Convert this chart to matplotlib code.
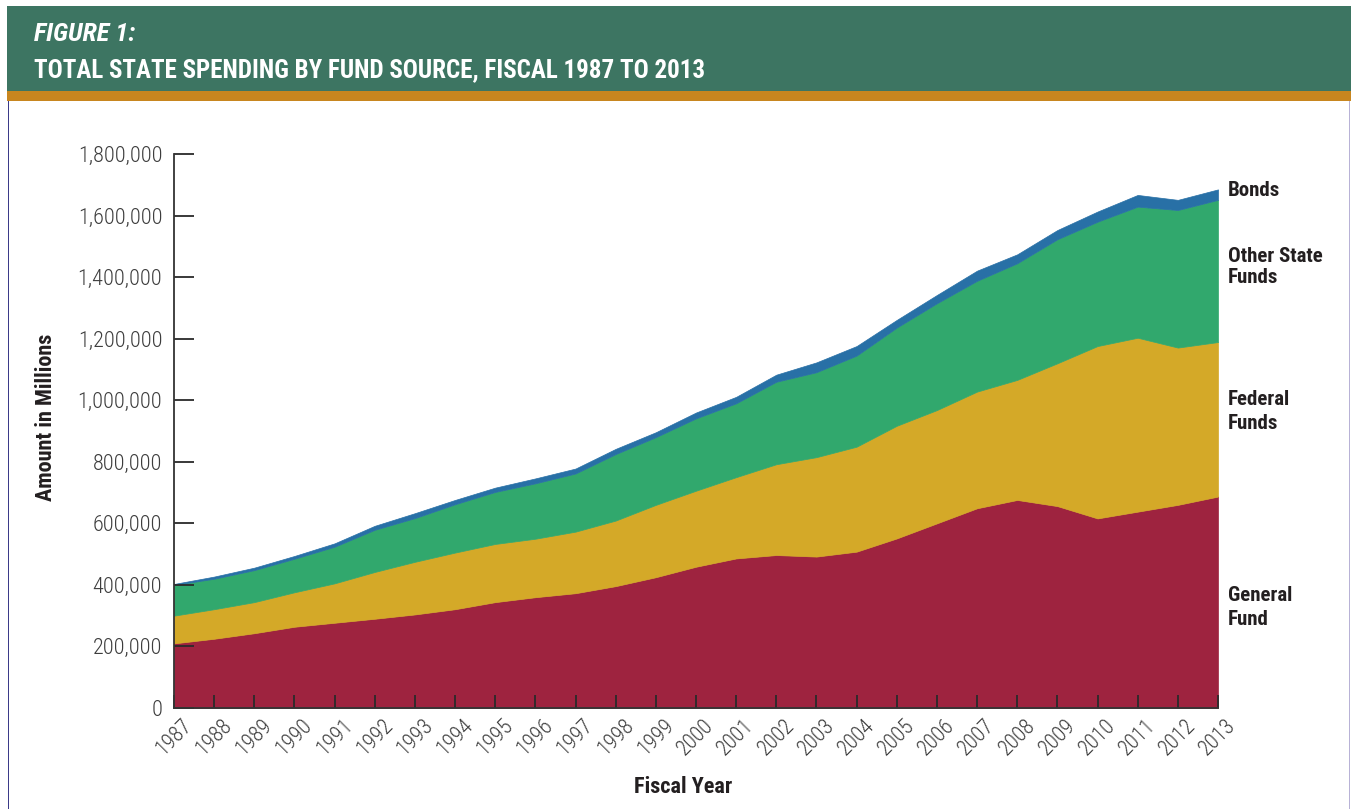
import matplotlib
matplotlib.use("Agg")
import matplotlib.pyplot as plt
from matplotlib.patches import Rectangle
import numpy as np

# fiscal years and spending by fund source (millions of dollars)
years = list(range(1987, 2014))
general = [210000, 225000, 243000, 264000, 277000, 290000, 304000, 321000, 344000,
           360000, 373000, 396000, 425000, 459000, 486000, 497000, 492000, 508000,
           551000, 600000, 649000, 676000, 656000, 616000, 638000, 660000, 687000]
federal = [90000, 96000, 101000, 112000, 128000, 152000, 171000, 184000, 189000,
           190000, 200000, 213000, 235000, 247000, 264000, 295000, 323000, 341000,
           366000, 368000, 379000, 390000, 464000, 560000, 565000, 511000, 502000]
other_state = [100000, 99000, 104000, 109000, 119000, 137000, 142000, 157000, 169000,
               180000, 189000, 216000, 220000, 235000, 240000, 268000, 276000, 296000,
               319000, 347000, 360000, 379000, 403000, 404000, 426000, 447000, 462000]
bonds = [3000, 7000, 8000, 9000, 11000, 13000, 16000, 14000, 14000,
         16000, 16000, 17000, 16000, 19000, 21000, 23000, 32000, 31000,
         25000, 27000, 33000, 29000, 30000, 33000, 38000, 33000, 34000]

series = [general, federal, other_state, bonds]
series_names = ["General\nFund", "Federal\nFunds", "Other State\nFunds", "Bonds"]
series_colours = ["#9e233f", "#d4a928", "#31a86d", "#2870a6"]
# vertical spot for each side label, in data units
label_y = [326000, 963000, 1433000, 1683000]
label_spacing = [1.35, 1.35, 1.15, 1.15]

y_ticks = list(range(0, 1800001, 200000))

W, H = 1351, 809
plt.rcParams["font.family"] = ["Liberation Sans Narrow", "Roboto Condensed",
                               "Roboto", "DejaVu Sans"]

fig = plt.figure(figsize=(W / 100, H / 100), dpi=100, facecolor="white")


def box(x0, y0, x1, y1, **kw):
    """Rectangle given in pixel coords measured from the top-left corner."""
    fig.add_artist(Rectangle((x0 / W, 1 - y1 / H), (x1 - x0) / W, (y1 - y0) / H,
                             transform=fig.transFigure, **kw))


# header band, gold rule and framed panel
box(7, 6, W, 91, facecolor="#3d7562", edgecolor="none")
box(7, 91, W, 101, facecolor="#c8861f", edgecolor="none")
box(7.5, 101, 9, H, facecolor="#3b3a88", edgecolor="none")
box(1348.5, 101, 1350, H, facecolor="#b8b2d6", edgecolor="none")

fig.text(34 / W, 1 - 34 / H, "FIGURE 1:", color="white", fontsize=19,
         fontweight="bold", fontstyle="italic", va="center", ha="left")
fig.text(34 / W, 1 - 70 / H, "TOTAL STATE SPENDING BY FUND SOURCE, FISCAL 1987 TO 2013",
         color="white", fontsize=18, fontweight="bold", va="center", ha="left")

ax = fig.add_axes([174 / W, 1 - 708 / H, (1218 - 174) / W, (708 - 154) / H])

base = np.zeros(len(years))
for vals, colour in zip(series, series_colours):
    top = base + np.array(vals)
    ax.fill_between(years, base, top, facecolor=colour, edgecolor=colour, linewidth=0.5)
    base = top

ax.set_xlim(1987, 2013)
ax.set_ylim(0, 1800000)
ax.set_xticks(years)
ax.set_xticklabels([str(y) for y in years], rotation=45, ha="center", fontweight="light")
ax.set_yticks(y_ticks)
ax.set_yticklabels([f"{v:,}" for v in y_ticks], fontweight="light")

for side in ("top", "right"):
    ax.spines[side].set_visible(False)
for side in ("left", "bottom"):
    ax.spines[side].set_color("#333333")
    ax.spines[side].set_linewidth(1.3)

ax.tick_params(axis="y", direction="in", length=14.5, width=1.3, color="#2a2a2a",
               pad=8.5, labelsize=16, labelcolor="#3d3d3d")
ax.tick_params(axis="x", direction="in", length=9.5, width=1.3, color="#2a2a2a",
               pad=5, labelsize=15.5, labelcolor="#3d3d3d")

fig.text(46 / W, 1 - 417 / H, "Amount in Millions", rotation=90, fontsize=16,
         fontweight="bold", color="#231f20", ha="center", va="center")
fig.text(683 / W, 1 - 787 / H, "Fiscal Year", fontsize=16,
         fontweight="bold", color="#231f20", ha="center", va="center")

label_tf = ax.get_yaxis_transform()
for name, yv, ls in zip(series_names, label_y, label_spacing):
    ax.text((1228 - 174) / (1218 - 174), yv, name, transform=label_tf,
            fontsize=15, fontweight="bold", color="#231f20",
            ha="left", va="center", linespacing=ls, clip_on=False)

fig.savefig("out.png", dpi=100, facecolor="white")
